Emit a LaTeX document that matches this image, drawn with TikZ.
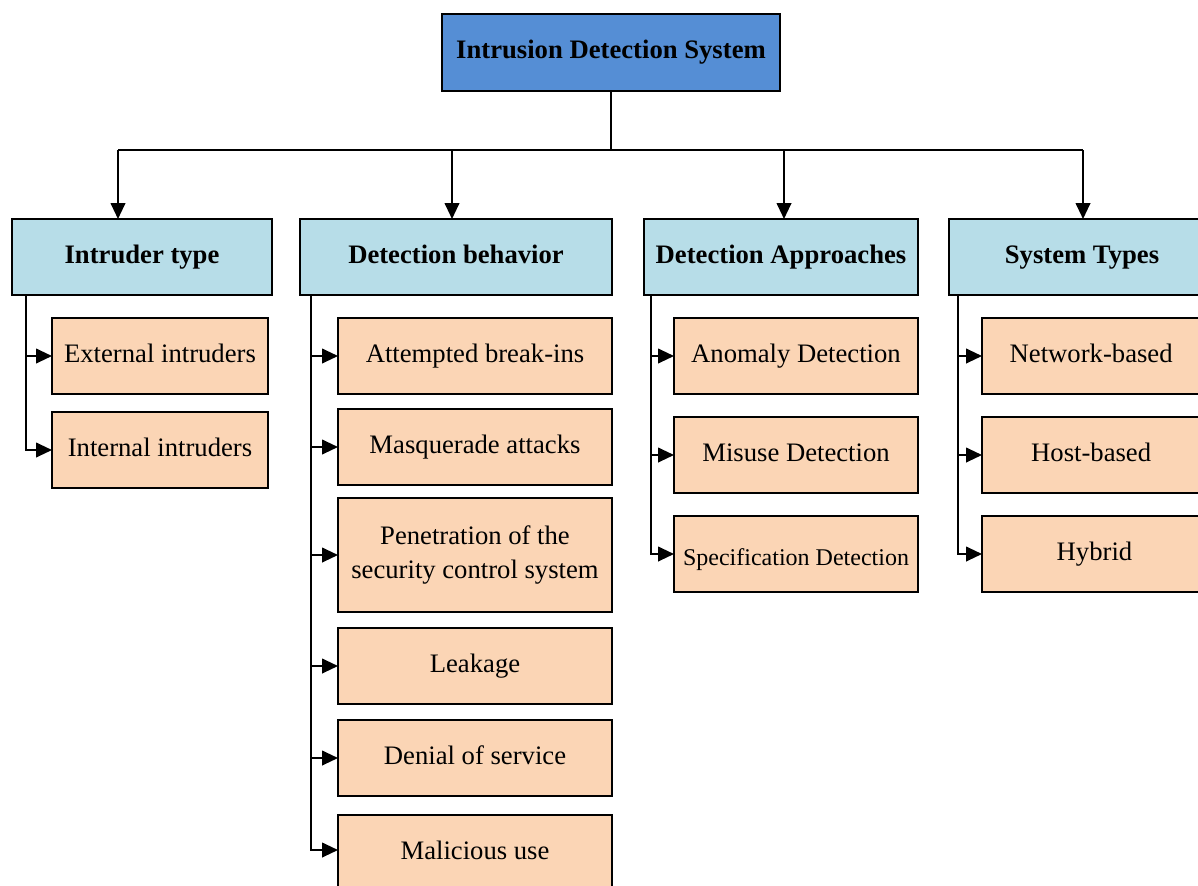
\documentclass[tikz,border=0pt]{standalone}
\usepackage{fontspec}
\setmainfont{Liberation Serif}
\usetikzlibrary{arrows.meta}
\definecolor{rootblue}{HTML}{558ED5}
\definecolor{catblue}{HTML}{B7DDE8}
\definecolor{leafpeach}{HTML}{FBD5B5}
% box from corner (x1,y1) to (x2,y2), in pixel units
\newcommand{\mkbox}[7]{\node[#6, minimum width={(#4-#2)*0.75pt}, minimum height={(#5-#3)*0.75pt}] (#1) at ({(#2+#4)/2},{(#3+#5)/2}) {#7};}
\begin{document}
\begin{tikzpicture}[x=0.75pt,y=-0.75pt,
  every node/.style={inner sep=0pt, outer sep=0pt},
  boxbase/.style={draw=black, line width=1.2pt, align=center, font=\fontsize{20pt}{26pt}\selectfont},
  rootbox/.style={boxbase, fill=rootblue, font=\fontsize{20pt}{26pt}\selectfont\bfseries},
  catbox/.style={boxbase, fill=catblue, font=\fontsize{20pt}{26pt}\selectfont\bfseries, text height=14pt, text depth=5pt},
  leafbox/.style={boxbase, fill=leafpeach, text height=14pt, text depth=5pt},
  link/.style={draw=black, line width=1.5pt},
  arr/.style={link, -{Triangle[length=12pt,width=11pt]}}]
\useasboundingbox (0,0) rectangle (1198,885);
\clip (0,0) rectangle (1198,885);

% root
\mkbox{root}{442}{14}{780}{91}{rootbox}{Intrusion Detection System}

% categories
\mkbox{c1}{12}{219}{272}{295}{catbox}{Intruder type}
\mkbox{c2}{300}{219}{612}{295}{catbox}{Detection behavior}
\mkbox{c3}{644}{219}{918}{295}{catbox}{Detection Approaches}
\mkbox{c4}{949}{219}{1215}{295}{catbox}{System Types}

% intruder type
\mkbox{a1}{52}{318}{268}{394}{leafbox}{External intruders}
\mkbox{a2}{52}{412}{268}{488}{leafbox}{Internal intruders}

% detection behavior
\mkbox{b1}{338}{318}{612}{394}{leafbox}{Attempted break-ins}
\mkbox{b2}{338}{409}{612}{485}{leafbox}{Masquerade attacks}
\mkbox{b3}{338}{498}{612}{612}{leafbox, text height=39.8pt, text depth=4.2pt}{Penetration of the\\security control system}
\mkbox{b4}{338}{628}{612}{704}{leafbox}{Leakage}
\mkbox{b5}{338}{720}{612}{796}{leafbox}{Denial of service}
\mkbox{b6}{338}{815}{612}{891}{leafbox}{Malicious use}

% detection approaches
\mkbox{d1}{674}{318}{918}{394}{leafbox}{Anomaly Detection}
\mkbox{d2}{674}{417}{918}{493}{leafbox}{Misuse Detection}
\mkbox{d3}{674}{516}{918}{592}{leafbox}{\raisebox{-4pt}{\fontsize{18pt}{22pt}\selectfont Specification Detection}}

% system types
\mkbox{e1}{982}{318}{1215}{394}{leafbox}{\hspace*{-11pt}Network-based}
\mkbox{e2}{982}{417}{1215}{493}{leafbox}{\hspace*{-11pt}Host-based}
\mkbox{e3}{982}{516}{1215}{592}{leafbox}{\hspace*{-6pt}Hybrid}

% distribution bus under the root
\coordinate (bus) at (611.7,150);
\coordinate (t1) at (118,150);
\coordinate (t2) at (452,150);
\coordinate (t3) at (784,150);
\coordinate (t4) at (1083,150);
\draw[link] (root.south) -- (root.south |- bus);
\draw[link] (t1) -- (t4);
\draw[arr] (t1) -- (t1 |- c1.north);
\draw[arr] (t2) -- (t2 |- c2.north);
\draw[arr] (t3) -- (t3 |- c3.north);
\draw[arr] (t4) -- (t4 |- c4.north);

% side rails from each category
\coordinate (r1) at (26,295);
\coordinate (r2) at (311,295);
\coordinate (r3) at (651,295);
\coordinate (r4) at (958,295);
\foreach \leaf in {a1,a2} \draw[arr] (r1) |- (\leaf.west);
\foreach \leaf in {b1,b2,b3,b4,b5} \draw[arr] (r2) |- (\leaf.west);
\draw[arr] (r2) |- (b6.west |- 0,850);
\foreach \leaf in {d1,d2,d3} \draw[arr] (r3) |- (\leaf.west);
\foreach \leaf in {e1,e2,e3} \draw[arr] (r4) |- (\leaf.west);
\end{tikzpicture}
\end{document}
